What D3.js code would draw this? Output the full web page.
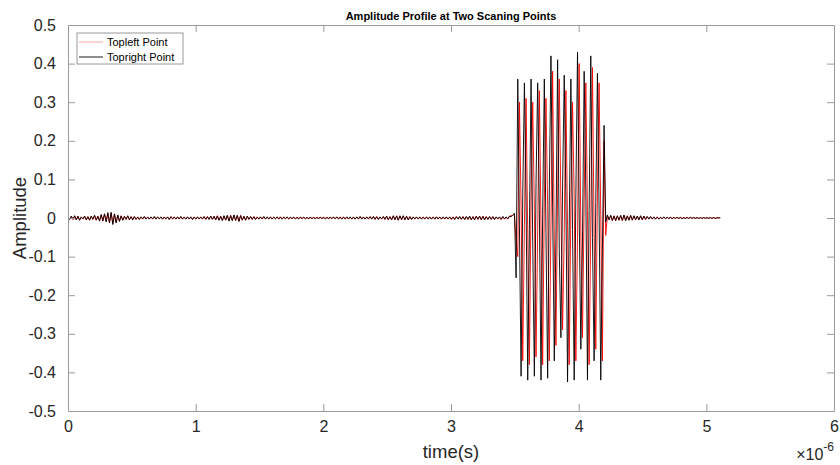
<!DOCTYPE html>
<html><head><meta charset="utf-8">
<script src="https://cdn.jsdelivr.net/npm/d3@7"></script>
<style>
html,body{margin:0;padding:0;background:#fff;}
svg{display:block;font-family:"Liberation Sans",Arial,Helvetica,sans-serif;}
</style></head>
<body><svg id="chart" width="840" height="465"></svg>
<script>
// ---- data ----
// sampling interval in microseconds (time axis is in units of 1e-6 s)
const sampleStepUs = 0.013;
// amplitudes in thousandths (milli-units)
const topRightNoise = [
2,-4,5,-3,6,-5,4,-6,3,-2, 5,-4,3,-6,5,-3,7,-5,4,-8, 9,-7,11,-10,14,-12,15,-17,10,-13,
8,-9,5,-6,4,-3,6,-4,3,-5, 4,-3,2,-4,3,-2,4,-3,2,-3, 3,-2,4,-3,2,-2,3,-3,2,-2,
3,-4,3,-2,2,-3,3,-2,4,-3, 2,-3,3,-2,3,-4,2,-3,3,-2, 3,-2,4,-3,3,-4,5,-3,4,-5,
5,-6,4,-7,6,-5,7,-8,6,-7, 8,-6,7,-9,6,-5,4,-6,5,-3, 4,-3,3,-4,2,-3,3,-2,4,-3,
3,-2,2,-3,2,-2,3,-2,2,-3, 2,-2,3,-2,2,-1,2,-2,1,-2, 2,-1,2,-2,1,-1,2,-1,1,-2,
1,-1,2,-1,1,-2,1,-1,2,-1, 2,-2,3,-2,2,-3,2,-2,3,-2, 3,-3,2,-3,3,-2,4,-3,2,-3,
3,-2,3,-3,4,-3,3,-4,3,-2, 4,-3,5,-4,3,-5,6,-4,5,-6, 5,-4,6,-5,4,-5,3,-4,3,-2,
3,-2,2,-3,2,-2,3,-2,2,-3, 2,-3,3,-2,2,-3,3,-2,3,-2, 3,-3,2,-4,3,-3,4,-3,3,-4,
4,-3,5,-4,3,-5,4,-3,5,-4, 4,-5,3,-4,4,-3,3,-4,3,-2, 3,-3,4,-2,3,-2,5,3,8,
12,-155];
const topRightBurst = [
360,-20,-410,60, 350,40,-420,-30, 360,-60,-410,90, 350,20,-420,10,
360,-40,-415,70, 420,30,-370,-50, 410,-80,-310,80, 370,50,-425,-20,
360,-30,-420,60, 430,10,-340,-60, 380,70,-420,20, 420,-50,-370,40,
375,20,-420,-80, 240];
const topRightTail = [
-10,8,-5,7,-6,5,-7,6,-5,7, -6,8,-7,5,-6,7,-5,6,-4,5, -5,6,-4,5,-3,4,-3,4,-2,3,
-3,2,-3,2,-2,3,-2,2,-1,2, -2,1,-1,2,-1,1,-2,1,-1,1, -1,2,-1,1,-1,1,-1,1,-1,1,
-1,1,-1,1,-1,1,-1,1,0,1];

const topLeftNoise = [
3,-3,4,-4,5,-4,5,-5,2,-3, 4,-5,4,-5,4,-4,6,-6,5,-7, 8,-8,10,-9,12,-13,13,-14,11,-11,
7,-8,6,-5,5,-4,5,-5,4,-4, 3,-4,3,-3,2,-3,3,-2,3,-2, 2,-3,3,-2,3,-2,2,-2,3,-3,
2,-3,4,-3,3,-2,2,-3,3,-2, 3,-2,2,-3,2,-3,3,-2,2,-3, 2,-3,3,-4,4,-3,4,-4,5,-4,
6,-5,5,-6,5,-6,6,-7,7,-6, 7,-7,6,-8,7,-6,5,-5,4,-4, 3,-4,4,-3,3,-2,2,-3,3,-2,
2,-3,3,-2,3,-2,2,-3,3,-2, 3,-2,2,-3,1,-2,1,-1,2,-1, 1,-2,1,-1,2,-2,1,-2,2,-1,
2,-1,1,-2,2,-1,2,-2,1,-2, 3,-2,2,-3,3,-2,3,-3,2,-3, 2,-2,3,-2,2,-3,3,-2,3,-2,
2,-3,4,-2,3,-4,4,-3,2,-3, 3,-4,4,-5,4,-4,5,-5,6,-5, 6,-5,5,-4,5,-4,4,-3,2,-3,
2,-3,3,-2,3,-3,2,-3,3,-2, 3,-2,2,-3,3,-2,2,-3,2,-3, 2,-4,3,-3,4,-2,3,-4,4,-3,
3,-4,4,-5,4,-4,5,-4,4,-5, 5,-4,4,-3,3,-4,4,-3,2,-3, 2,-4,3,-3,2,-3,4,6,7,
10,-60];
const topLeftBurst = [
-100,300,30,-370, -20,310,-40,-380, 50,300,20,-360, -30,330,-20,-380,
40,310,30,-370, -20,380,-60,-330, 60,360,40,-290, -40,330,-20,-380,
30,300,50,-370, -50,400,-30,-310, 40,350,20,-380, -20,390,-40,-340,
60,350,10,-370, 200];
const topLeftTail = [
-45,6,-4,6,-7,6,-6,5,-6,6, -7,7,-6,6,-5,6,-6,5,-5,4, -4,5,-5,4,-4,3,-2,3,-3,2,
-2,3,-2,1,-2,2,-1,2,-2,1, -1,2,-1,1,-1,2,-1,1,-1,2, -1,1,-1,1,-1,1,-1,1,-1,1,
-1,1,-1,1,-1,1,-1,0,1,0];

const seriesNames = ["Topleft Point", "Topright Point"];
const seriesColors = ["#ff0000", "#000000"];
const xTicks = [0,1,2,3,4,5,6];
const yTicks = [0.5,0.4,0.3,0.2,0.1,0,-0.1,-0.2,-0.3,-0.4,-0.5];
const yTickLabels = ["0.5","0.4","0.3","0.2","0.1","0","-0.1","-0.2","-0.3","-0.4","-0.5"];
const titleText = "Amplitude Profile at Two Scaning Points";
const xLabel = "time(s)";
const yLabel = "Amplitude";

// ---- build ----
const topLeft = topLeftNoise.concat(topLeftBurst, topLeftTail);
const topRight = topRightNoise.concat(topRightBurst, topRightTail);
const toPoints = arr => arr.map((v,i)=>({t:i*sampleStepUs, a:v/1000}));
const series = [toPoints(topLeft), toPoints(topRight)];

const svg = d3.select("#chart");
const m = {left:68, right:834, top:25, bottom:411};
const x = d3.scaleLinear().domain([0,6]).range([m.left, m.right]);
const y = d3.scaleLinear().domain([-0.5,0.5]).range([m.bottom, m.top]);
const axisColor = "#9a9a9a";
const textColor = "#262626";

// clip
svg.append("defs").append("clipPath").attr("id","clip")
  .append("rect").attr("x",m.left).attr("y",m.top).attr("width",m.right-m.left).attr("height",m.bottom-m.top);

// lines
const line = d3.line().x(d=>x(d.t)).y(d=>y(d.a));
const g = svg.append("g").attr("clip-path","url(#clip)");
series.forEach((s,i)=>{
  g.append("path").datum(s).attr("d",line).attr("fill","none")
   .attr("stroke",seriesColors[i]).attr("stroke-width",0.9).attr("stroke-linejoin","round");
});

// axes (MATLAB-like box with inward ticks)
function styleAxis(sel){
  sel.selectAll(".domain").attr("stroke",axisColor).attr("stroke-width",1);
  sel.selectAll(".tick line").attr("stroke",axisColor).attr("stroke-width",1);
  sel.selectAll(".tick text").attr("fill",textColor).style("font-size","16px")
     .style("font-family","'Liberation Sans',Arial,sans-serif");
}
const xb = svg.append("g").attr("transform",`translate(0,${m.bottom})`)
  .call(d3.axisBottom(x).tickValues(xTicks).tickFormat(d3.format("d")).tickSizeInner(-7).tickSizeOuter(0).tickPadding(10));
styleAxis(xb);
const xt = svg.append("g").attr("transform",`translate(0,${m.top})`)
  .call(d3.axisTop(x).tickValues(xTicks).tickFormat("").tickSizeInner(-7).tickSizeOuter(0));
styleAxis(xt);
const yl = svg.append("g").attr("transform",`translate(${m.left},0)`)
  .call(d3.axisLeft(y).tickValues(yTicks).tickFormat((d,i)=>yTickLabels[i]).tickSizeInner(-7).tickSizeOuter(0).tickPadding(12));
styleAxis(yl);
const yr = svg.append("g").attr("transform",`translate(${m.right},0)`)
  .call(d3.axisRight(y).tickValues(yTicks).tickFormat("").tickSizeInner(-7).tickSizeOuter(0));
styleAxis(yr);
// hide edge ticks that overlap the box
[xb,xt].forEach(a=>a.selectAll(".tick line").filter(d=>d===0||d===6).remove());
[yl,yr].forEach(a=>a.selectAll(".tick line").filter(d=>d===0.5||d===-0.5).remove());

// title
svg.append("text").attr("x",(m.left+m.right)/2).attr("y",20).attr("text-anchor","middle")
  .attr("font-weight","bold").attr("font-size","11px").attr("fill","#000").text(titleText);
// axis labels
svg.append("text").attr("x",(m.left+m.right)/2).attr("y",458).attr("text-anchor","middle")
  .attr("font-size","18.5px").attr("fill",textColor).text(xLabel);
svg.append("text").attr("transform",`translate(26,${(m.top+m.bottom)/2}) rotate(-90)`).attr("text-anchor","middle")
  .attr("font-size","18.5px").attr("fill",textColor).text(yLabel);
// exponent
const ex = svg.append("text").attr("x",834).attr("y",460).attr("text-anchor","end").attr("fill",textColor).attr("font-size","16px");
ex.append("tspan").text("\u00d710");
ex.append("tspan").attr("dy",-9).attr("font-size","12px").text("-6");

// legend
const lg = svg.append("g");
lg.append("rect").attr("x",77).attr("y",33).attr("width",106).attr("height",31)
  .attr("fill","#fff").attr("stroke","#9a9a9a").attr("stroke-width",1);
seriesNames.forEach((n,i)=>{
  const yy = 42 + i*15;
  lg.append("line").attr("x1",79).attr("x2",103).attr("y1",yy).attr("y2",yy)
    .attr("stroke",i===0?"#f4a6a6":"#000").attr("stroke-width",i===0?1:0.9);
  lg.append("text").attr("x",107).attr("y",yy+4).attr("font-size","11px").attr("fill","#000").text(n);
});
</script></body></html>
